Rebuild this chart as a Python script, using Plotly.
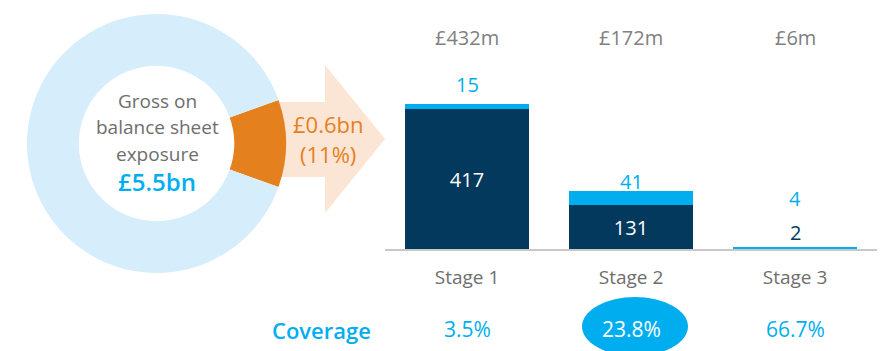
import plotly.graph_objects as go

# ---- data ----
stages = ["Stage 1", "Stage 2", "Stage 3"]
dark_values = [417, 131, 2]      # lower (navy) segment, £m
light_values = [15, 41, 4]       # upper (light blue) segment, £m
exposure_total_bn = 5.5
exposure_slice_bn = 0.6

# ---- styles ----
W, H = 882, 351
NAVY = "#03395C"
BLUE = "#00AEEF"
PALE_BLUE = "#D6EEFB"
ORANGE = "#E5801F"
PEACH = "#FBE5D4"
GREY = "#6E6E6E"
FONT = "Open Sans"


def px(x):
    return x / W


def py(y):
    return 1 - y / H


totals = [d + l for d, l in zip(dark_values, light_values)]
coverage = [l / t * 100 for l, t in zip(light_values, totals)]
share = exposure_slice_bn / exposure_total_bn

fig = go.Figure()

# donut: highlighted slice centred at 3 o'clock
fig.add_trace(go.Pie(
    values=[exposure_slice_bn, exposure_total_bn - exposure_slice_bn],
    marker=dict(colors=[ORANGE, PALE_BLUE], line=dict(width=0)),
    hole=0.6,
    sort=False,
    direction="clockwise",
    rotation=90 - share * 360 / 2,
    textinfo="none",
    hoverinfo="skip",
    showlegend=False,
    domain=dict(x=[px(27), px(286)], y=[py(273), py(14)]),
))

# stacked bars
fig.add_trace(go.Bar(
    x=stages, y=dark_values, marker=dict(color=NAVY, line=dict(width=0)),
    text=[str(v) if v >= 50 else "" for v in dark_values],
    textposition="inside", insidetextanchor="middle",
    textfont=dict(color="white", size=20, family=FONT),
    hoverinfo="skip", showlegend=False,
))
fig.add_trace(go.Bar(
    x=stages, y=light_values, marker=dict(color=BLUE, line=dict(width=0)),
    hoverinfo="skip", showlegend=False,
))

annotations = []
shapes = []


def note(text, x, y, size, color, xref="paper", yref="paper", weight=None, yshift=0):
    font = dict(size=size, color=color, family=FONT)
    if weight:
        font["weight"] = weight
    annotations.append(dict(text=text, x=x, y=y, xref=xref, yref=yref, yshift=yshift,
                            xanchor="center", yanchor="middle", showarrow=False, font=font))


# arrow from the donut slice towards the bars
arrow = [(276, 102), (325, 102), (325, 65), (385, 139), (325, 213), (325, 177), (276, 177)]
path = "M " + " L ".join(f"{px(x):.5f},{py(y):.5f}" for x, y in arrow) + " Z"
shapes.append(dict(type="path", path=path, xref="paper", yref="paper",
                   fillcolor=PEACH, line=dict(width=0), layer="below"))

# donut centre text
for text, y in [("Gross on", 101), ("balance sheet", 127), ("exposure", 154)]:
    note(text, px(157), py(y), 19, GREY)
note(f"£{exposure_total_bn}bn", px(157), py(181), 24, BLUE, weight=600)

# arrow text
note(f"£{exposure_slice_bn}bn", px(328), py(124), 22, ORANGE)
note(f"({share * 100:.0f}%)", px(328), py(154), 22, ORANGE)

# totals above each stage
for s, t in zip(stages, totals):
    note(f"£{t}m", s, py(38), 20, "#808080", xref="x")

# light segment values above the bars
light_lift = [19, 10, 48]
for s, t, l, lift in zip(stages, totals, light_values, light_lift):
    note(str(l), s, t, 20, BLUE, xref="x", yref="y", yshift=lift)

# small navy values shown above the bar
for s, d in zip(stages, dark_values):
    if d < 50:
        note(str(d), s, d, 20, NAVY, xref="x", yref="y", yshift=16)

# coverage row
note("Coverage", px(321), py(330), 22, BLUE, weight=600)
highlight = 1
for i, (s, c) in enumerate(zip(stages, coverage)):
    note(f"{c:.1f}%", s, py(329), 21, "white" if i == highlight else BLUE, xref="x")
shapes.append(dict(type="circle", xref="paper", yref="paper",
                   x0=px(582), x1=px(688), y0=py(356), y1=py(297),
                   fillcolor=BLUE, line=dict(width=0), layer="below"))

fig.update_layout(
    width=W, height=H,
    margin=dict(l=0, r=0, t=0, b=0),
    paper_bgcolor="white", plot_bgcolor="rgba(0,0,0,0)",
    barmode="stack", bargap=0.238,
    font=dict(family=FONT),
    xaxis=dict(domain=[px(385), px(877)], showline=True, linecolor="#C8C8C8", linewidth=1.5,
               showgrid=False, zeroline=False, ticks="", ticklabelstandoff=10,
               tickfont=dict(size=19, color=GREY, family=FONT), fixedrange=True),
    yaxis=dict(domain=[py(249), 1], range=[0, 249 * 417 / 140], visible=False,
               showgrid=False, zeroline=False, fixedrange=True),
    annotations=annotations,
    shapes=shapes,
)

fig.write_html("out.html")
